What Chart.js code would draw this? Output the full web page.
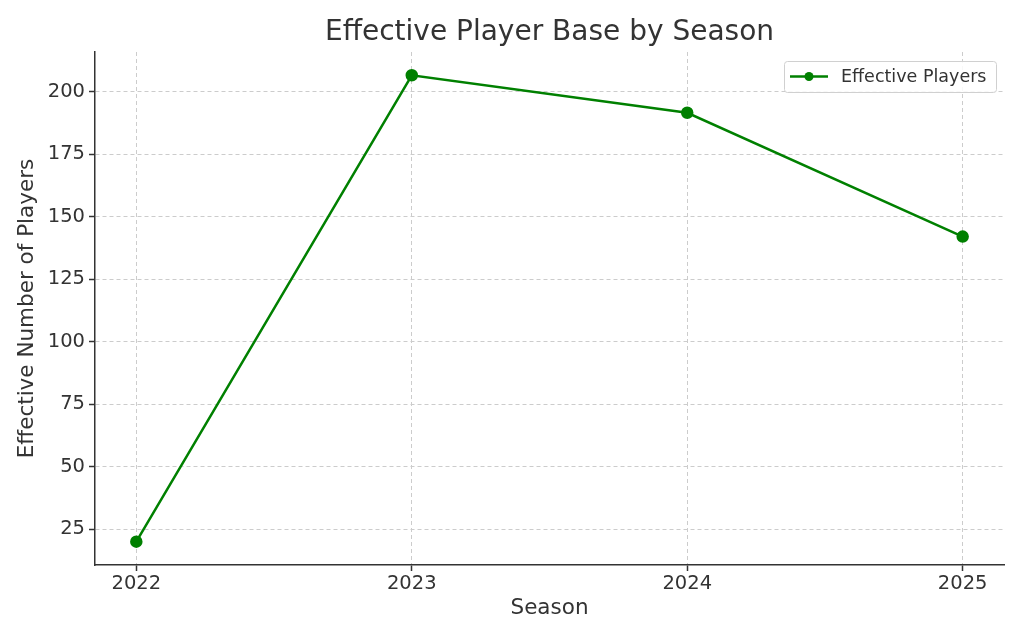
<!DOCTYPE html>
<html>
<head>
<meta charset="utf-8">
<script src="https://cdn.jsdelivr.net/npm/chart.js@4"></script>
<style>
  html, body { margin: 0; padding: 0; background: #fff; }
  #wrap { width: 1024px; height: 640px; }
</style>
</head>
<body>
<div id="wrap"><canvas id="playerChart" width="1024" height="640"></canvas></div>
<script>
const seasons = [2022, 2023, 2024, 2025];
const effectivePlayers = [20, 206.5, 191.5, 142];
const yTicks = [25, 50, 75, 100, 125, 150, 175, 200];
const seriesLabel = 'Effective Players';
const chartTitle = 'Effective Player Base by Season';

const textColor = '#333333';
const lineColor = '#008000';
const fontFamily = 'DejaVu Sans';

// title centred over the plot area, like matplotlib does
const plotTitle = {
  id: 'plotTitle',
  afterDraw(chart) {
    const { ctx, chartArea } = chart;
    ctx.save();
    ctx.fillStyle = textColor;
    ctx.font = '28px "' + fontFamily + '"';
    ctx.textAlign = 'center';
    ctx.textBaseline = 'middle';
    ctx.fillText(chartTitle, (chartArea.left + chartArea.right) / 2, chartArea.top - 19);
    ctx.restore();
  }
};

// legend box with line + marker
const legendBox = {
  id: 'legendBox',
  afterDraw(chart) {
    const { ctx, chartArea } = chart;
    const w = 212, h = 31;
    const x = chartArea.right - 8 - w;
    const y = chartArea.top + 9;
    ctx.save();
    ctx.fillStyle = 'rgba(255,255,255,0.85)';
    ctx.strokeStyle = '#d0d0d0';
    ctx.lineWidth = 1;
    ctx.beginPath();
    ctx.roundRect(x + 0.5, y + 0.5, w, h, 3);
    ctx.fill();
    ctx.stroke();
    const cy = y + h / 2;
    ctx.strokeStyle = lineColor;
    ctx.lineWidth = 2.5;
    ctx.beginPath();
    ctx.moveTo(x + 6, cy);
    ctx.lineTo(x + 44, cy);
    ctx.stroke();
    ctx.fillStyle = lineColor;
    ctx.beginPath();
    ctx.arc(x + 25, cy, 4.5, 0, Math.PI * 2);
    ctx.fill();
    ctx.fillStyle = textColor;
    ctx.font = '17.5px "' + fontFamily + '"';
    ctx.textBaseline = 'middle';
    ctx.fillText(seriesLabel, x + 57, cy + 1);
    ctx.restore();
  }
};

const gridOpts = {
  color: '#cccccc',
  tickColor: textColor,
  tickBorderDash: [],
  tickLength: 6,
  tickWidth: 1.5,
};

const ctx = document.getElementById('playerChart').getContext('2d');
new Chart(ctx, {
  type: 'line',
  data: {
    datasets: [{
      label: seriesLabel,
      data: seasons.map((s, i) => ({ x: s, y: effectivePlayers[i] })),
      borderColor: lineColor,
      backgroundColor: lineColor,
      borderWidth: 2.5,
      pointRadius: 5,
      pointHoverRadius: 5,
      tension: 0,
    }],
  },
  options: {
    responsive: false,
    animation: false,
    layout: { padding: { left: 0, right: 20, top: 52, bottom: 0 } },
    plugins: {
      legend: { display: false },
      tooltip: { enabled: false },
      title: { display: false },
    },
    scales: {
      x: {
        type: 'linear',
        min: 2021.85,
        max: 2025.15,
        afterBuildTicks: (scale) => { scale.ticks = seasons.map(v => ({ value: v })); },
        afterFit: (scale) => { scale.height = 75; },
        ticks: {
          color: textColor,
          font: { family: fontFamily, size: 19.5 },
          padding: 1,
          callback: (v) => String(v),
        },
        grid: gridOpts,
        border: { color: textColor, width: 1.5, dash: [4, 3] },
        title: {
          display: true,
          text: 'Season',
          color: textColor,
          font: { family: fontFamily, size: 21.5 },
          padding: { top: 4, bottom: 19 },
        },
      },
      y: {
        min: 10.67,
        max: 215.8,
        afterBuildTicks: (scale) => { scale.ticks = yTicks.map(v => ({ value: v })); },
        afterFit: (scale) => { scale.width = 95; scale.paddingTop = 0; },
        ticks: {
          color: textColor,
          font: { family: fontFamily, size: 19.5 },
          padding: 4,
        },
        grid: gridOpts,
        border: { color: textColor, width: 1.5, dash: [4, 3] },
        title: {
          display: true,
          text: 'Effective Number of Players',
          color: textColor,
          font: { family: fontFamily, size: 21.5 },
          padding: { top: 15, bottom: 6 },
        },
      },
    },
  },
  plugins: [plotTitle, legendBox],
});
</script>
</body>
</html>
